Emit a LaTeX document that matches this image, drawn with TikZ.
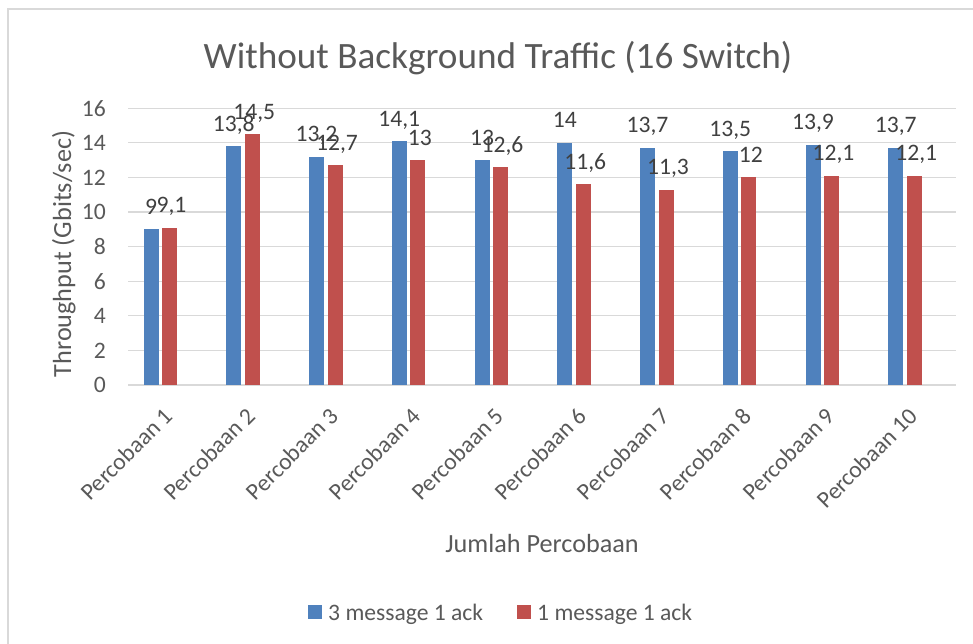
\documentclass[tikz,border=0pt]{standalone}
\usepackage{fontspec}
\setmainfont{Carlito}
\usetikzlibrary{positioning}
\definecolor{barblue}{HTML}{4F81BD}
\definecolor{barred}{HTML}{C0504D}
\definecolor{txtgray}{HTML}{595959}
\definecolor{lblgray}{HTML}{404040}
\definecolor{gridgray}{HTML}{D9D9D9}
\begin{document}
\begin{tikzpicture}[x=1pt,y=-1pt]
	\tikzstyle{frameline}=[gridgray,line width=1.2pt]
	\tikzstyle{gridline}=[gridgray,line width=1.3pt]
	\tikzstyle{bluebar}=[fill=barblue]
	\tikzstyle{redbar}=[fill=barred]
	\tikzstyle{ticklabel}=[text=txtgray,inner sep=0pt,font=\fontsize{23.6}{28}\selectfont]
	\tikzstyle{datalabel}=[text=lblgray,inner sep=0pt,anchor=base,font=\fontsize{23.6}{28}\selectfont]
	\tikzstyle{axistitle}=[text=txtgray,inner sep=0pt,anchor=base,font=\fontsize{26.2}{30}\selectfont]
	\tikzstyle{charttitle}=[text=txtgray,inner sep=0pt,anchor=base,font=\fontsize{37.2}{42}\selectfont]

	\useasboundingbox (0,0) rectangle (973,644);
	\draw[frameline] (8,660) -- (8,9) -- (990,9);

	% grid and y axis
	\foreach \v in {0,2,...,16} {
		\draw[gridline] (128,{385-17.3*\v}) -- (956,{385-17.3*\v});
		\node[ticklabel,anchor=east] (y\v) at (106,{385-17.3*\v}) {\v};
	}

	% bars, labels, categories
	\foreach \bb/\tb/\br/\tr [count=\i] in {9/9/9.1/9{,}1, 13.8/13{,}8/14.5/14{,}5, 13.2/13{,}2/12.7/12{,}7,
		14.1/14{,}1/13/13, 13/13/12.6/12{,}6, 14/14/11.6/11{,}6, 13.7/13{,}7/11.3/11{,}3,
		13.5/13{,}5/12/12, 13.9/13{,}9/12.1/12{,}1, 13.7/13{,}7/12.1/12{,}1} {
		\pgfmathsetmacro\cx{160.5+82.75*(\i-1)}
		\fill[bluebar] (\cx-17,385) rectangle (\cx-2,{385-17.3*\bb});
		\fill[redbar] (\cx+1.5,385) rectangle (\cx+16.5,{385-17.3*\br});
		\node[datalabel] (lb\i) at (\cx-9.5,{385-17.3*\bb-15}) {\tb};
		\node[datalabel] (lr\i) at (\cx+11,{385-17.3*\br-15}) {\tr};
		\node[ticklabel,rotate=45,anchor=east] (x\i) at (\cx+8,412) {Percobaan \i};
	}

	% titles
	\node[charttitle] (title) at (498,69) {Without Background Traffic (16 Switch)};
	\node[axistitle,rotate=90] (ytitle) at (71,254) {Throughput (Gbits/sec)};
	\node[axistitle] (xtitle) at (542,552) {Jumlah Percobaan};

	% legend
	\fill[bluebar] (308,605) rectangle (322,619);
	\node[ticklabel,anchor=base west] (leg1) at (328,620) {3 message 1 ack};
	\fill[redbar] (517,605) rectangle (531,619);
	\node[ticklabel,anchor=base west] (leg2) at (537,620) {1 message 1 ack};
\end{tikzpicture}
\end{document}
